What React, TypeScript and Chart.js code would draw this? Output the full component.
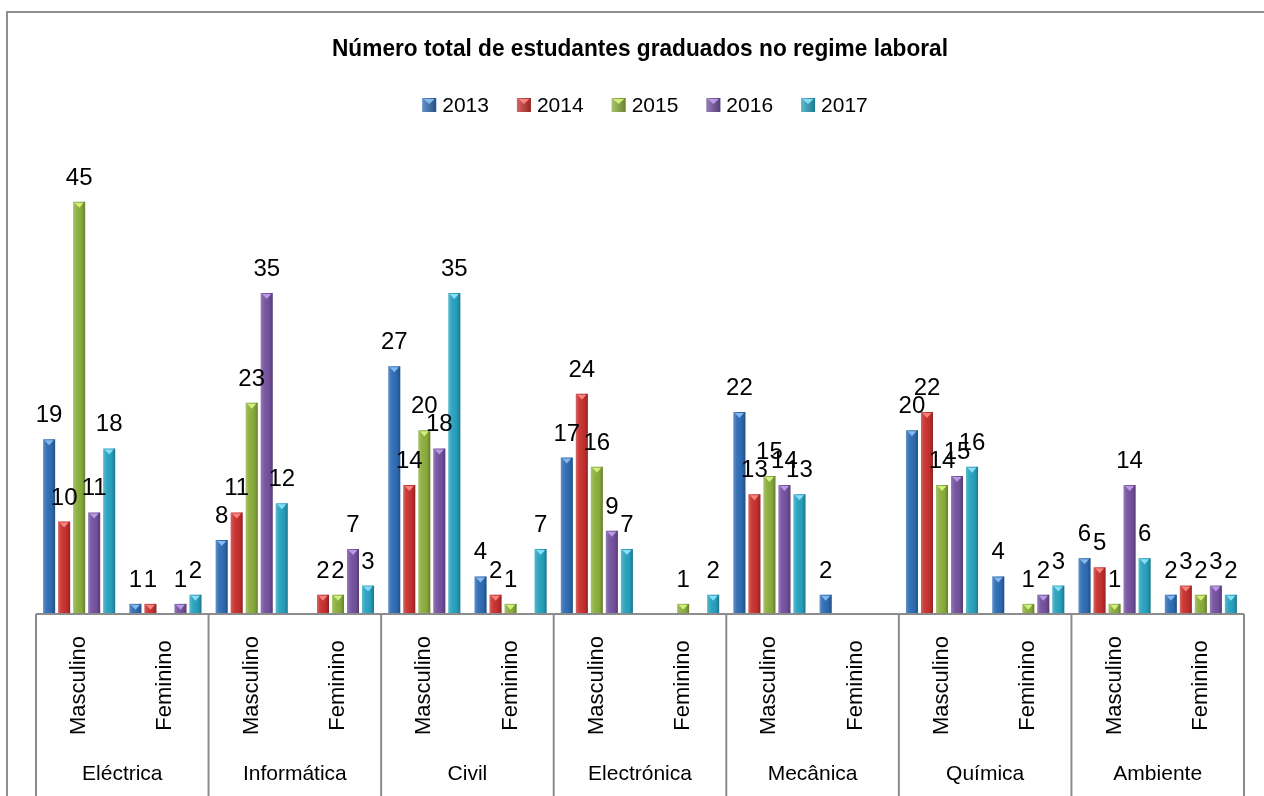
import React, { useEffect, useRef } from 'react';
import { Chart, registerables } from 'chart.js';

Chart.register(...registerables);

const TITLE = 'Número total de estudantes graduados no regime laboral';
const departments = ['Eléctrica', 'Informática', 'Civil', 'Electrónica', 'Mecânica', 'Química', 'Ambiente'];
const genders = ['Masculino', 'Feminino'];
const years = ['2013', '2014', '2015', '2016', '2017'];

// order: per department -> Masculino, Feminino
const v2013 = [19, 1, 8, null, 27, 4, 17, null, 22, 2, 20, 4, 6, 2];
const v2014 = [10, 1, 11, 2, 14, 2, 24, null, 13, null, 22, null, 5, 3];
const v2015 = [45, null, 23, 2, 20, 1, 16, 1, 15, null, 14, 1, 1, 2];
const v2016 = [11, 1, 35, 7, 18, null, 9, null, 14, null, 15, 2, 14, 3];
const v2017 = [18, 2, 12, 3, 35, 7, 7, 2, 13, null, 16, 3, 6, 2];
const seriesValues = [v2013, v2014, v2015, v2016, v2017];

const yMax = 50;

const colors = ['#2F6DB5', '#C9312F', '#8CAF3D', '#7552A0', '#28A3C0'];
const lightColors = ['#86B8F0', '#F6857F', '#D2EE7C', '#BA9BE3', '#86E0F5'];

const SANS = "'Liberation Sans', Arial, sans-serif";

const categoryLabels = departments.flatMap((d) => genders.map((g) => [g, d]));

function drawCondensed(ctx: CanvasRenderingContext2D, text: string, cx: number, y: number, targetWidth: number) {
  const w = ctx.measureText(text).width;
  const s = Math.min(1, targetWidth / w);
  ctx.save();
  ctx.translate(cx, y);
  ctx.scale(s, 1);
  ctx.textAlign = 'center';
  ctx.fillText(text, 0, 0);
  ctx.restore();
}

const decorPlugin = {
  id: 'decor',
  afterDatasetsDraw(chart: any) {
    const ctx: CanvasRenderingContext2D = chart.ctx;
    const xs = chart.scales.x;
    const area = chart.chartArea;
    ctx.save();
    // bevel shading + top triangle
    chart.data.datasets.forEach((ds: any, di: number) => {
      const meta = chart.getDatasetMeta(di);
      meta.data.forEach((el: any, i: number) => {
        const v = ds.data[i];
        if (v == null) return;
        const { x, y, base, width } = el.getProps(['x', 'y', 'base', 'width'], true);
        const l = x - width / 2;
        const r = x + width / 2;
        const g = ctx.createLinearGradient(l, 0, r, 0);
        g.addColorStop(0, 'rgba(255,255,255,0.25)');
        g.addColorStop(0.25, 'rgba(255,255,255,0.06)');
        g.addColorStop(0.7, 'rgba(0,0,0,0.04)');
        g.addColorStop(1, 'rgba(0,0,0,0.28)');
        ctx.fillStyle = g;
        ctx.fillRect(l, y, width, base - y);
        ctx.fillStyle = lightColors[di];
        ctx.beginPath();
        ctx.moveTo(l + 1.5, y + 1);
        ctx.lineTo(r - 1.5, y + 1);
        ctx.lineTo(x, y + Math.min(6, base - y));
        ctx.closePath();
        ctx.fill();
      });
    });
    // data labels
    ctx.fillStyle = '#000';
    ctx.font = `24px ${SANS}`;
    ctx.textAlign = 'center';
    ctx.textBaseline = 'alphabetic';
    chart.data.datasets.forEach((ds: any, di: number) => {
      const meta = chart.getDatasetMeta(di);
      meta.data.forEach((el: any, i: number) => {
        const v = ds.data[i];
        if (v == null) return;
        ctx.fillText(String(v), el.x, el.y - 17);
      });
    });
    // x axis (multi-level)
    const n = chart.data.labels.length;
    const catW = (xs.right - xs.left) / n;
    const bottom = area.bottom + 1;
    ctx.strokeStyle = '#8c8c8c';
    ctx.lineWidth = 2;
    ctx.beginPath();
    ctx.moveTo(xs.left, bottom);
    ctx.lineTo(xs.right, bottom);
    for (let gi = 0; gi <= departments.length; gi++) {
      const x = xs.left + gi * genders.length * catW;
      ctx.moveTo(x, bottom);
      ctx.lineTo(x, chart.height);
    }
    ctx.stroke();
    ctx.fillStyle = '#000';
    ctx.font = `22px ${SANS}`;
    ctx.textAlign = 'center';
    ctx.textBaseline = 'middle';
    chart.data.labels.forEach((lab: any, i: number) => {
      const x = xs.getPixelForValue(i);
      ctx.save();
      ctx.translate(x, 685.5);
      ctx.rotate(-Math.PI / 2);
      ctx.fillText(lab[0], 0, 0);
      ctx.restore();
    });
    ctx.font = `21px ${SANS}`;
    departments.forEach((d, gi) => {
      const x = xs.left + (gi * genders.length + genders.length / 2) * catW;
      ctx.fillText(d, x, 774);
    });
    // title
    ctx.font = `bold 24px ${SANS}`;
    ctx.textBaseline = 'alphabetic';
    drawCondensed(ctx, TITLE, 640, 56, 616);
    // legend
    ctx.font = `21px ${SANS}`;
    const box = 14;
    const gapBoxText = 6;
    const gapItems = 28;
    const widths = chart.data.datasets.map((ds: any) => ctx.measureText(ds.label).width);
    const total = widths.reduce((a: number, w: number) => a + box + gapBoxText + w, 0) + gapItems * (widths.length - 1);
    let lx = 645 - total / 2;
    const ly = 105;
    chart.data.datasets.forEach((ds: any, di: number) => {
      ctx.fillStyle = colors[di];
      ctx.fillRect(lx, ly - box / 2, box, box);
      const g = ctx.createLinearGradient(lx, 0, lx + box, 0);
      g.addColorStop(0, 'rgba(255,255,255,0.25)');
      g.addColorStop(1, 'rgba(0,0,0,0.25)');
      ctx.fillStyle = g;
      ctx.fillRect(lx, ly - box / 2, box, box);
      ctx.fillStyle = lightColors[di];
      ctx.beginPath();
      ctx.moveTo(lx + 1.5, ly - box / 2 + 1);
      ctx.lineTo(lx + box - 1.5, ly - box / 2 + 1);
      ctx.lineTo(lx + box / 2, ly - box / 2 + 6);
      ctx.closePath();
      ctx.fill();
      ctx.fillStyle = '#000';
      ctx.textAlign = 'left';
      ctx.textBaseline = 'middle';
      ctx.fillText(ds.label, lx + box + gapBoxText, ly + 1);
      lx += box + gapBoxText + widths[di] + gapItems;
    });
    ctx.restore();
  },
};

export default function App() {
  const ref = useRef<HTMLCanvasElement>(null);
  useEffect(() => {
    if (!ref.current) return;
    const chart = new Chart(ref.current, {
      type: 'bar',
      data: {
        labels: categoryLabels,
        datasets: years.map((y, i) => ({
          label: y,
          data: seriesValues[i],
          backgroundColor: colors[i],
          borderWidth: 0,
          categoryPercentage: 0.87,
          barPercentage: 0.8,
        })),
      },
      options: {
        animation: false,
        responsive: false,
        devicePixelRatio: 1,
        layout: { padding: { left: 36, right: 20, top: 156, bottom: 183 } },
        scales: {
          x: { display: false, grid: { display: false } },
          y: { display: false, min: 0, max: yMax, grid: { display: false } },
        },
        plugins: {
          legend: { display: false },
          title: { display: false },
          tooltip: { enabled: false },
        },
      },
      plugins: [decorPlugin],
    });
    return () => chart.destroy();
  }, []);
  return (
    <div style={{ position: 'fixed', left: 0, top: 0, width: 1264, height: 796, overflow: 'hidden', background: '#fff' }}>
      <div
        style={{
          position: 'absolute',
          left: 6,
          top: 11,
          width: 1400,
          height: 1000,
          borderLeft: '2px solid #8e8e8e',
          borderTop: '2px solid #8e8e8e',
        }}
      />
      <canvas ref={ref} width={1264} height={796} style={{ position: 'absolute', left: 0, top: 0, width: 1264, height: 796 }} />
    </div>
  );
}
